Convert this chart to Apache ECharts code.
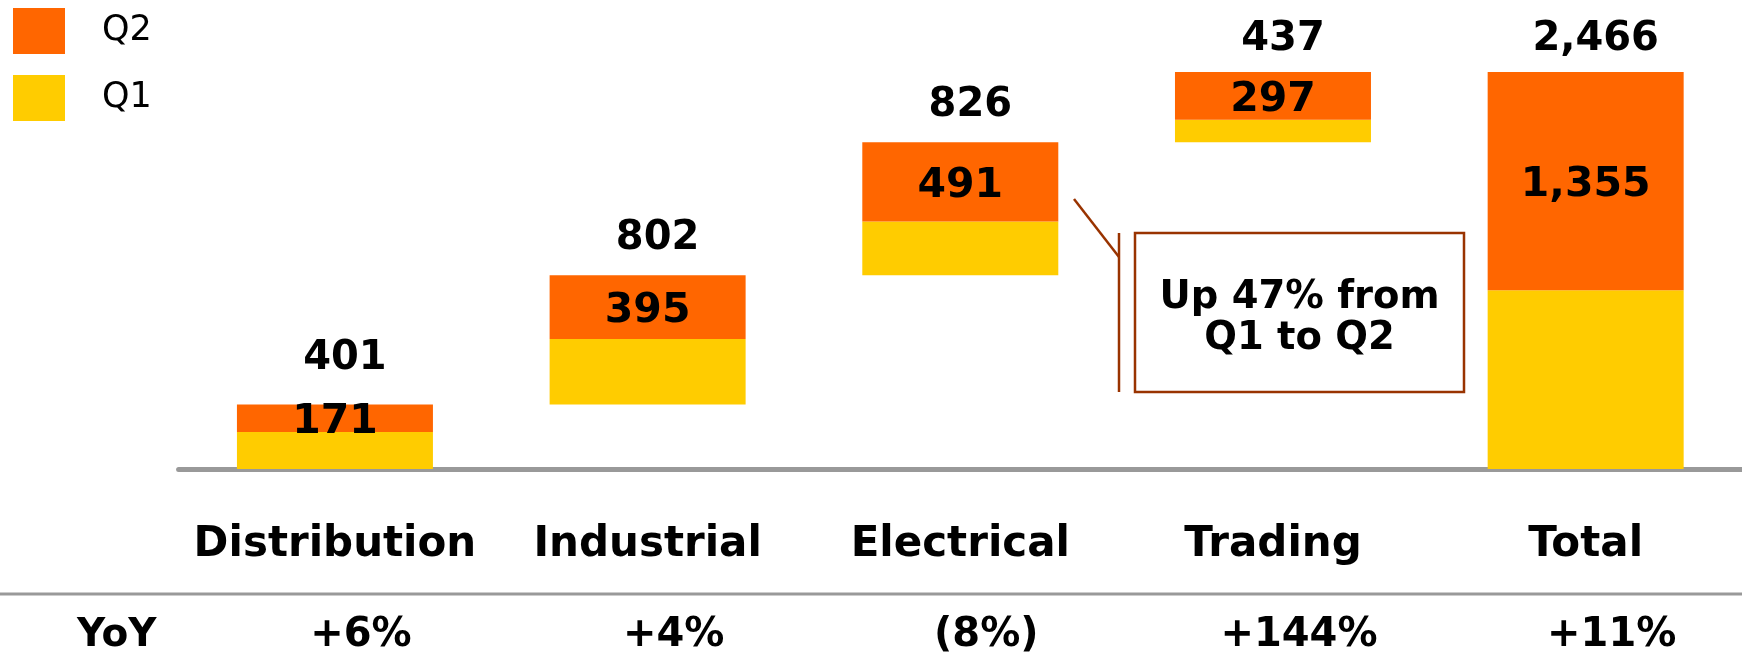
<!DOCTYPE html>
<html>
<head>
<meta charset="utf-8">
<script src="https://cdn.jsdelivr.net/npm/echarts@6/dist/echarts.min.js"></script>
<style>
  html, body { margin: 0; padding: 0; background: #ffffff; }
  #chart { width: 1742px; height: 660px; }
</style>
</head>
<body>
<div id="chart"></div>
<script>
// ---- data ----
const categories = ['Distribution', 'Industrial', 'Electrical', 'Trading', 'Total'];
const totals = [401, 802, 826, 437, 2466];
const q2Values = [171, 395, 491, 297, 1355];
const q1Values = [230, 407, 335, 140, 1111];
const baseValues = [0, 401, 1203, 2029, 0];
const yoyLabels = ['+6%', '+4%', '(8%)', '+144%', '+11%'];
const calloutText = 'Up 47% from\nQ1 to Q2';

// ---- styles ----
const ORANGE = '#FF6600';
const YELLOW = '#FFCC00';
const GREY = '#999999';
const BROWN = '#993300';
const BOLD_FONT = 'DejaVu Sans';
// per-bar nudges of the total labels (style only)
const totalLabelDistance = [26, 17, 17, 12.5, 12.5];

function fmt(v) { return v.toLocaleString('en-US'); }

const chart = echarts.init(document.getElementById('chart'), null, { renderer: 'canvas' });

const option = {
  animation: false,
  backgroundColor: '#ffffff',
  legend: {
    data: ['Q2', 'Q1'],
    orient: 'vertical',
    left: 13,
    top: 8,
    padding: 0,
    itemWidth: 52,
    itemHeight: 46,
    itemGap: 21,
    icon: 'rect',
    selectedMode: false,
    textStyle: {
      fontFamily: 'DejaVu Sans',
      fontSize: 35,
      color: '#000000',
      padding: [0, 0, 0, 32]
    }
  },
  grid: {
    left: 178.6,
    top: 50.4,
    width: 1573.8,
    height: 418.6,
    containLabel: false
  },
  xAxis: [
    {
      type: 'category',
      data: categories,
      offset: 3,
      axisLine: { show: true, lineStyle: { color: GREY, width: 5, cap: 'round' } },
      axisTick: { show: false },
      axisLabel: {
        interval: 0,
        margin: 73.5,
        verticalAlign: 'middle',
        fontFamily: BOLD_FONT,
        fontWeight: 'bold',
        fontSize: 42,
        color: '#000000'
      },
      splitLine: { show: false }
    },
    {
      type: 'category',
      data: yoyLabels,
      position: 'bottom',
      offset: 167,
      name: 'YoY',
      nameLocation: 'start',
      nameGap: 22,
      nameTextStyle: {
        fontFamily: BOLD_FONT,
        fontWeight: 'bold',
        fontSize: 39,
        color: '#000000',
        verticalAlign: 'middle'
      },
      axisLine: { show: false },
      axisTick: { show: false },
      axisLabel: {
        interval: 0,
        margin: 0,
        verticalAlign: 'middle',
        padding: [0, 0, 0, 52],
        fontFamily: BOLD_FONT,
        fontWeight: 'bold',
        fontSize: 40,
        color: '#000000'
      },
      splitLine: { show: false }
    }
  ],
  yAxis: {
    type: 'value',
    min: 0,
    max: 2600,
    show: false,
    splitLine: { show: false }
  },
  series: [
    {
      name: 'base',
      type: 'bar',
      stack: 'wf',
      barWidth: 196,
      silent: true,
      itemStyle: { color: 'rgba(0,0,0,0)' },
      emphasis: { disabled: true },
      data: baseValues
    },
    {
      name: 'Q1',
      type: 'bar',
      stack: 'wf',
      barWidth: 196,
      itemStyle: { color: YELLOW },
      emphasis: { disabled: true },
      data: q1Values
    },
    {
      name: 'Q2',
      type: 'bar',
      stack: 'wf',
      barWidth: 196,
      itemStyle: { color: ORANGE },
      emphasis: { disabled: true },
      label: {
        show: true,
        position: 'inside',
        offset: [0, 4.5],
        formatter: p => fmt(p.value),
        fontFamily: BOLD_FONT,
        fontWeight: 'bold',
        fontSize: 41,
        color: '#000000'
      },
      data: q2Values
    },
    {
      name: 'totalLabels',
      type: 'scatter',
      symbolSize: 0,
      silent: true,
      z: 5,
      itemStyle: { opacity: 1 },
      emphasis: { disabled: true },
      label: {
        show: true,
        position: 'top',
        offset: [10, 0],
        formatter: p => fmt(totals[p.dataIndex]),
        fontFamily: BOLD_FONT,
        fontWeight: 'bold',
        fontSize: 40,
        lineHeight: 40,
        color: '#000000'
      },
      data: categories.map((c, i) => ({
        value: [i, baseValues[i] + q1Values[i] + q2Values[i]],
        label: { distance: totalLabelDistance[i] }
      }))
    }
  ],
  graphic: [
    {
      type: 'line',
      shape: { x1: 0, y1: 594, x2: 1742, y2: 594 },
      style: { stroke: GREY, lineWidth: 3 },
      silent: true
    },
    {
      type: 'line',
      shape: { x1: 1074, y1: 199, x2: 1119, y2: 257 },
      style: { stroke: BROWN, lineWidth: 2.5 },
      silent: true
    },
    {
      type: 'line',
      shape: { x1: 1119, y1: 233, x2: 1119, y2: 392 },
      style: { stroke: BROWN, lineWidth: 2.5 },
      silent: true
    },
    {
      type: 'rect',
      shape: { x: 1135, y: 233, width: 329, height: 159 },
      style: { stroke: BROWN, lineWidth: 2.5, fill: '#ffffff' },
      silent: true
    },
    {
      type: 'text',
      x: 1299.5,
      y: 318.5,
      style: {
        text: calloutText,
        fontFamily: BOLD_FONT,
        fontWeight: 'bold',
        fontSize: 38.5,
        lineHeight: 41,
        fill: '#000000',
        align: 'center',
        verticalAlign: 'middle'
      },
      silent: true
    }
  ]
};

chart.setOption(option);
</script>
</body>
</html>
